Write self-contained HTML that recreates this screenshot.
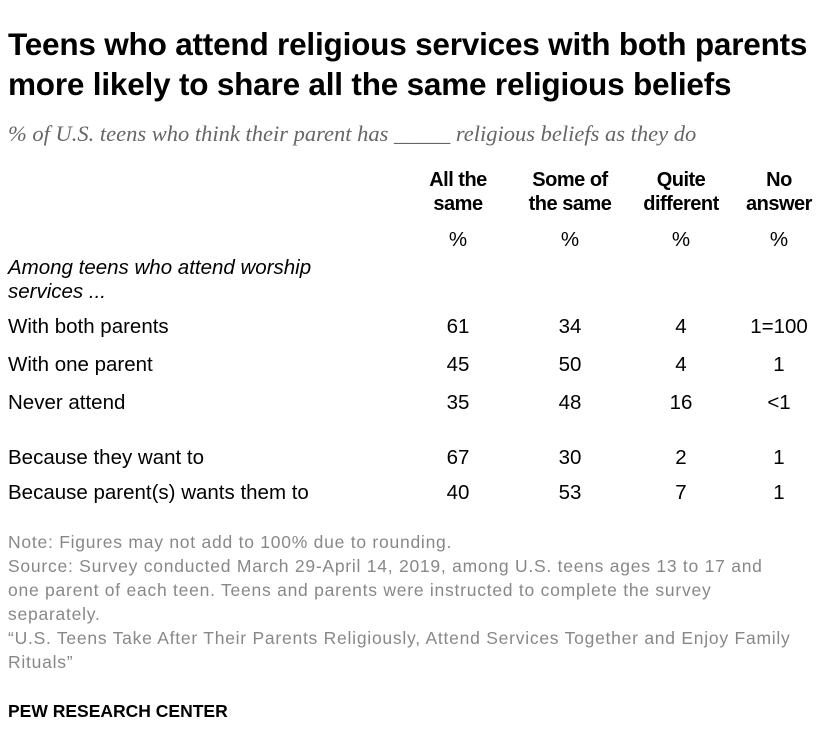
<!DOCTYPE html>
<html><head><meta charset="utf-8">
<style>
body{margin:0;width:838px;height:756px;background:#fff;position:relative;overflow:hidden;font-family:"Liberation Sans",sans-serif;color:#000}
.a{position:absolute;white-space:nowrap}
.t{font-family:"Liberation Sans",sans-serif;font-weight:bold;font-size:31.5px;line-height:40px;left:8px;letter-spacing:-0.2px}
.sub{font-family:"Liberation Serif",serif;font-style:italic;font-size:22.5px;color:#666;left:8px;top:121px}
.h{font-weight:bold;font-size:20px;line-height:24px;text-align:center;width:120px;letter-spacing:-0.5px}
.c{font-size:20.5px;text-align:center;width:100px}
.l{font-size:20.5px;left:8px}
.n{font-family:"Liberation Sans",sans-serif;font-size:17.5px;color:#888;left:8px;line-height:24px;letter-spacing:0.75px}
</style></head><body>
<div class="a t" style="top:24px">Teens who attend religious services with both parents<br>more likely to share all the same religious beliefs</div>
<div class="a sub">% of U.S. teens who think their parent has _____ religious beliefs as they do</div>
<div class="a n" style="top:530px">Note: Figures may not add to 100% due to rounding.<br>Source: Survey conducted March 29-April 14, 2019, among U.S. teens ages 13 to 17 and<br>one parent of each teen. Teens and parents were instructed to complete the survey<br>separately.<br>“U.S. Teens Take After Their Parents Religiously, Attend Services Together and Enjoy Family<br>Rituals”</div>
<div class="a" style="left:8px;top:701px;font-family:'Liberation Sans',sans-serif;font-weight:bold;font-size:17.5px">PEW RESEARCH CENTER</div>
<script>
const headers=[["All the","same"],["Some of","the same"],["Quite","different"],["No","answer"]];
const rowLabels=["With both parents","With one parent","Never attend","Because they want to","Because parent(s) wants them to"];
const colAll=["61","45","35","67","40"];
const colSome=["34","50","48","30","53"];
const colQuite=["4","4","16","2","7"];
const colNo=["1=100","1","<1","1","1"];
const colX=[458,570,681,779];
const rowY=[315,353,391,446,481];
const cols=[colAll,colSome,colQuite,colNo];
const root=document.body;
function mk(cls,txt,l,t,name){const d=document.createElement('div');d.className='a '+cls;d.innerHTML=txt;d.style.left=l+'px';d.style.top=t+'px';


root.appendChild(d);return d;}
headers.forEach((h,i)=>{mk('h',h.join('<br>'),colX[i]-60,168,'column-header');mk('c','%',colX[i]-50,228,'percent-label');});
mk('l','<i>Among teens who attend worship<br>services ...</i>',8,256,'group-label').style.lineHeight='24px';
rowLabels.forEach((r,j)=>{mk('l',r,8,rowY[j],'row-label');cols.forEach((c,i)=>mk('c',c[j],colX[i]-50,rowY[j],'cell-value'));});
</script>
</body></html>
